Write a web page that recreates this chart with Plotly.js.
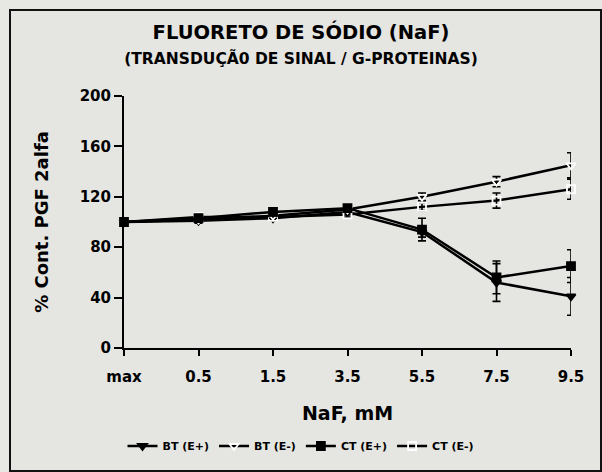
<!DOCTYPE html>
<html>
<head>
<meta charset="utf-8">
<script src="https://cdn.plot.ly/plotly-3.0.1.min.js"></script>
<style>
html,body{margin:0;padding:0;background:#e7e7e3;}
#chart{width:602px;height:472px;}
</style>
</head>
<body>
<div id="chart"></div>
<script>
// Data
var categories = ['max', '0.5', '1.5', '3.5', '5.5', '7.5', '9.5'];

var btEplus      = [100, 101, 103, 108, 92, 52, 41];
var btEplusErr   = [0, 2, 2, 2, 4, 15, 15];

var btEminus     = [100, 102, 105, 110, 120, 132, 145];
var btEminusErr  = [0, 2, 2, 2, 3, 4, 10];

var ctEplus      = [100, 103, 108, 111, 94, 56, 65];
var ctEplusErr   = [0, 2, 3, 2, 9, 13, 13];

var ctEminus     = [100, 104, 104, 106, 112, 117, 126];
var ctEminusErr  = [0, 3, 2, 2, 3, 6, 8];

var seriesNames = ['BT (E+)', 'BT (E-)', 'CT (E+)', 'CT (E-)'];
var yTicks = [0, 40, 80, 120, 160, 200];

var FONT = 'DejaVu Sans, Liberation Sans, Arial, sans-serif';

function mk(name, y, err, symbol, rank) {
  return {
    type: 'scatter',
    mode: 'lines+markers',
    name: name,
    legendrank: rank,
    x: categories,
    y: y,
    cliponaxis: false,
    line: {color: '#000000', width: 2.5},
    marker: {symbol: symbol, size: 8, color: symbol.indexOf('open') >= 0 ? '#ffffff' : '#000000',
             line: {color: '#000000', width: 1.8}},
    error_y: {type: 'data', array: err, visible: true, color: '#000000', thickness: 1.6, width: 4}
  };
}

var data = [
  mk(seriesNames[0], btEplus, btEplusErr, 'triangle-down', 1),
  mk(seriesNames[3], ctEminus, ctEminusErr, 'square-open', 4),
  mk(seriesNames[1], btEminus, btEminusErr, 'triangle-down-open', 2),
  mk(seriesNames[2], ctEplus, ctEplusErr, 'square', 3)
];

var layout = {
  width: 602, height: 472,
  paper_bgcolor: '#e7e7e3',
  plot_bgcolor: 'rgba(0,0,0,0)',
  margin: {l: 124, r: 31, t: 96, b: 124},
  font: {family: FONT, color: '#000000'},
  title: {
    text: '<b>FLUORETO DE SÓDIO (NaF)</b><br><span style="font-size:15.5px"><b>(TRANSDUÇÃ0 DE SINAL / G-PROTEINAS)</b></span>',
    font: {family: FONT, size: 19.5, color: '#000000'},
    x: 0.5, xref: 'container', xanchor: 'center',
    y: 1 - 39 / 472, yref: 'container', yanchor: 'middle'
  },
  xaxis: {
    type: 'category',
    range: [0, 6],
    showgrid: false, zeroline: false,
    showline: true, linecolor: '#000000', linewidth: 2,
    ticks: 'outside', ticklen: 6, tickwidth: 2, tickcolor: '#000000',
    ticklabelstandoff: 8,
    tickfont: {family: FONT, size: 15, color: '#000000', weight: 'bold'},
    title: {text: '<b>NaF, mM</b>', font: {family: FONT, size: 19, color: '#000000'}, standoff: 22}
  },
  yaxis: {
    range: [0, 200],
    tickvals: yTicks,
    showgrid: false, zeroline: false,
    showline: true, linecolor: '#000000', linewidth: 2,
    ticks: 'outside', ticklen: 8, tickwidth: 2, tickcolor: '#000000',
    tickfont: {family: FONT, size: 15, color: '#000000', weight: 'bold'},
    title: {text: '<b>% Cont. PGF 2alfa</b>', font: {family: FONT, size: 18, color: '#000000'}, standoff: 26}
  },
  showlegend: true,
  legend: {
    orientation: 'h',
    x: 0.5, xanchor: 'center', xref: 'container',
    y: 1 - 446 / 472, yref: 'container', yanchor: 'middle',
    bgcolor: 'rgba(0,0,0,0)',
    font: {family: FONT, size: 11, color: '#000000', weight: 'bold'},
    itemwidth: 30
  },
  shapes: [{
    type: 'rect', xref: 'paper', yref: 'paper', layer: 'below',
    x0: (10 - 124) / 447, x1: (601 - 124) / 447,
    y0: (348 - 471) / 252, y1: (348 - 10) / 252,
    line: {color: '#111111', width: 2},
    fillcolor: '#e5e5e1'
  }]
};

Plotly.newPlot('chart', data, layout, {displayModeBar: false, staticPlot: true});
</script>
</body>
</html>
